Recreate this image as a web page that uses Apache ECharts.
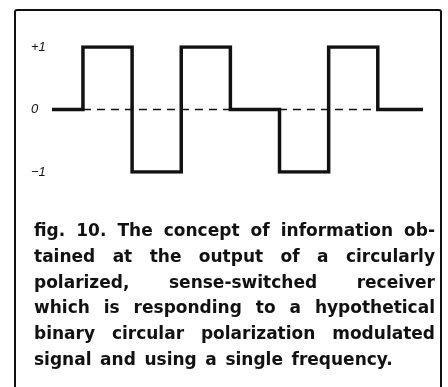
<!DOCTYPE html>
<html>
<head>
<meta charset="utf-8">
<script src="https://cdn.jsdelivr.net/npm/echarts@6/dist/echarts.min.js"></script>
<style>
  html, body { margin: 0; padding: 0; background: #fff; }
  #chart { width: 448px; height: 387px; }
</style>
</head>
<body>
<div id="chart"></div>
<script>
// bit boundaries (in bit periods) and the level held from each one
const bitTimes = [-0.63, 0, 1, 2, 3, 4, 5, 6, 6.92];
const levels = [0, 1, -1, 1, 0, -1, 1, 0, 0];
const zeroRef = [[0, 0], [6, 0]];
const levelTicks = { '1': '+1', '0': '0', '-1': '\u22121' };
const captionLines = [
  'fig. 10. The concept of information ob-',
  'tained at the output of a circularly',
  'polarized, sense-switched receiver',
  'which is responding to a hypothetical',
  'binary circular polarization modulated',
  'signal and using a single frequency.',
];

const ink = '#111';
const captionFont = 'bold 17px "DejaVu Sans", Verdana, sans-serif';

// lay out each caption line justified between textLeft and textRight
function captionGraphics() {
  const ctx = document.createElement('canvas').getContext('2d');
  ctx.font = captionFont;
  const textLeft = 34;
  const textRight = 435;
  const out = [];
  captionLines.forEach((line, i) => {
    const words = line.split(' ');
    const widths = words.map(w => ctx.measureText(w).width);
    const total = widths.reduce((a, b) => a + b, 0);
    const last = i === captionLines.length - 1;
    const gap = last ? ctx.measureText(' ').width * 1.45 : (textRight - textLeft - total) / (words.length - 1);
    let x = textLeft;
    const y = 234 + i * 25.8;
    words.forEach((w, j) => {
      out.push({
        type: 'text',
        left: x,
        top: y - 11,
        style: { text: w, font: captionFont, fill: ink },
      });
      x += widths[j] + gap;
    });
  });
  return out;
}

const chart = echarts.init(document.getElementById('chart'), null, { renderer: 'canvas' });
chart.setOption({
  backgroundColor: '#fff',
  animation: false,
  grid: { left: 52, right: 25, top: 47, bottom: 215 },
  xAxis: {
    type: 'value',
    min: bitTimes[0],
    max: bitTimes[bitTimes.length - 1],
    show: false,
  },
  yAxis: {
    type: 'value',
    min: -1,
    max: 1,
    interval: 1,
    axisLine: { show: false },
    axisTick: { show: false },
    splitLine: { show: false },
    axisLabel: {
      align: 'left',
      margin: 21,
      fontSize: 13,
      fontStyle: 'italic',
      fontFamily: '"Liberation Sans", Arial, sans-serif',
      color: ink,
      formatter: v => levelTicks[String(v)],
    },
  },
  series: [
    {
      type: 'line',
      data: zeroRef,
      symbol: 'none',
      lineStyle: { color: ink, width: 1.3, type: [8, 6] },
      z: 1,
    },
    {
      type: 'line',
      step: 'end',
      data: bitTimes.map((t, i) => [t, levels[i]]),
      symbol: 'none',
      lineStyle: { color: ink, width: 3.5, join: 'miter', cap: 'butt' },
      z: 2,
    },
  ],
  graphic: [
    {
      type: 'rect',
      shape: { x: 15, y: 10, width: 426, height: 400, r: 2 },
      style: { fill: null, stroke: ink, lineWidth: 2 },
    },
    ...captionGraphics(),
  ],
});
</script>
</body>
</html>
